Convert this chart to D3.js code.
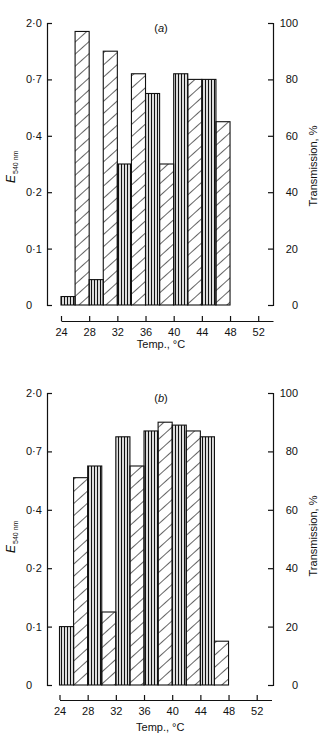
<!DOCTYPE html>
<html>
<head>
<meta charset="utf-8">
<script src="https://cdn.jsdelivr.net/npm/d3@7"></script>
<style>
  body { margin: 0; background: #fff; }
  svg text { font-family: "Liberation Sans", Arial, sans-serif; fill: #111; }
</style>
</head>
<body>
<svg id="chart" width="323" height="738"></svg>
<script>
// bins of 2 °C: vertical-hatched bar starts at each value, diagonal one 2 °C later
const binStarts = [24, 28, 32, 36, 40, 44];
const aVertical = [3, 9, 50, 75, 82, 80];
const aDiagonal = [97, 90, 82, 50, 80, 65];
const bVertical = [20, 75, 85, 87, 89, 85];
const bDiagonal = [71, 25, 75, 90, 87, 15];

const transTicks = [0, 20, 40, 60, 80, 100];
const extTicks = ["0", "0·1", "0·2", "0·4", "0·7", "2·0"];
const tempTicks = [24, 28, 32, 36, 40, 44, 48, 52];
const binWidth = 2;

const svg = d3.select("#chart");
const ink = "#111";

// Hatch patterns
const defs = svg.append("defs");
const vpat = defs.append("pattern")
  .attr("id", "vhatch")
  .attr("patternUnits", "userSpaceOnUse")
  .attr("width", 3).attr("height", 10);
vpat.append("line")
  .attr("x1", 1.5).attr("x2", 1.5).attr("y1", 0).attr("y2", 10)
  .attr("stroke", ink).attr("stroke-width", 1.3);

const dpat = defs.append("pattern")
  .attr("id", "dhatch")
  .attr("patternUnits", "userSpaceOnUse")
  .attr("width", 9).attr("height", 9)
  .attr("patternTransform", "rotate(48)");
dpat.append("line")
  .attr("x1", 0).attr("x2", 0).attr("y1", 0).attr("y2", 9)
  .attr("stroke", ink).attr("stroke-width", 1.3);

const panels = [
  { letter: "a", top: 23, base: 305, axisY: 321, titleY: 348, x0: 61, vert: aVertical, diag: aDiagonal },
  { letter: "b", top: 393, base: 685, axisY: 700, titleY: 731, x0: 59.5, vert: bVertical, diag: bDiagonal }
];

const leftX = 47, rightX = 273;

panels.forEach(p => {
  const g = svg.append("g");

  const x = d3.scaleLinear()
    .domain([24, 54.1])
    .range([p.x0, p.x0 + 212]);

  const y = d3.scaleLinear()
    .domain([0, 100])
    .range([p.base, p.top]);

  const rows = binStarts.flatMap((t, i) => [
    { t0: t, v: p.vert[i], fill: "url(#vhatch)" },
    { t0: t + binWidth, v: p.diag[i], fill: "url(#dhatch)" }
  ]);

  // Bars
  g.selectAll("rect.bar")
    .data(rows)
    .join("rect")
    .attr("class", "bar")
    .attr("x", d => x(d.t0))
    .attr("y", d => y(d.v))
    .attr("width", d => x(d.t0 + binWidth) - x(d.t0))
    .attr("height", d => y(0) - y(d.v))
    .attr("fill", d => d.fill)
    .attr("stroke", ink)
    .attr("stroke-width", 1.1);

  // Left axis (E540 labels at transmission positions)
  const left = g.append("g")
    .attr("transform", `translate(${leftX},0)`)
    .call(d3.axisRight(y).tickValues(transTicks).tickFormat((d, i) => extTicks[i])
      .tickSize(5).tickSizeOuter(5));
  left.selectAll("text")
    .attr("x", -21).attr("text-anchor", "start")
    .attr("font-size", "11px");

  // Right axis (Transmission %)
  const right = g.append("g")
    .attr("transform", `translate(${rightX},0)`)
    .call(d3.axisLeft(y).tickValues(transTicks).tickSize(5).tickSizeOuter(5));
  right.selectAll("text")
    .attr("x", 25).attr("text-anchor", "end")
    .attr("font-size", "11px");

  // Temperature axis
  const bottom = g.append("g")
    .attr("transform", `translate(0,${p.axisY})`)
    .call(d3.axisTop(x).tickValues(tempTicks).tickSize(5).tickSizeOuter(0));
  bottom.selectAll("text")
    .attr("y", 15).attr("dy", 0)
    .attr("font-size", "11px");

  [left, right, bottom].forEach(a => {
    a.attr("font-family", null);
    a.selectAll("path, line").attr("stroke", ink).attr("stroke-width", 1.2);
    a.selectAll("text").attr("fill", "#111");
  });

  g.append("text")
    .attr("x", (x(24) + rightX) / 2 - 6)
    .attr("y", p.titleY)
    .attr("text-anchor", "middle")
    .attr("font-size", "11px")
    .text("Temp., °C");

  // Panel letter
  const lab = g.append("text")
    .attr("x", 161)
    .attr("y", p.top + 9)
    .attr("text-anchor", "middle")
    .attr("font-size", "11px");
  lab.append("tspan").text("(");
  lab.append("tspan").attr("font-style", "italic").text(p.letter);
  lab.append("tspan").text(")");

  // Left title
  const et = g.append("text")
    .attr("transform", `translate(15,${p.top + 160}) rotate(-90)`);
  et.append("tspan").attr("font-style", "italic").attr("font-size", "12px").text("E");
  et.append("tspan").attr("font-size", "7px").attr("dy", 3).attr("dx", 1).text("540 nm");

  // Right title
  g.append("text")
    .attr("transform", `translate(317,${p.top + 143}) rotate(-90)`)
    .attr("text-anchor", "middle")
    .attr("font-size", "11px")
    .text("Transmission, %");
});
</script>
</body>
</html>
